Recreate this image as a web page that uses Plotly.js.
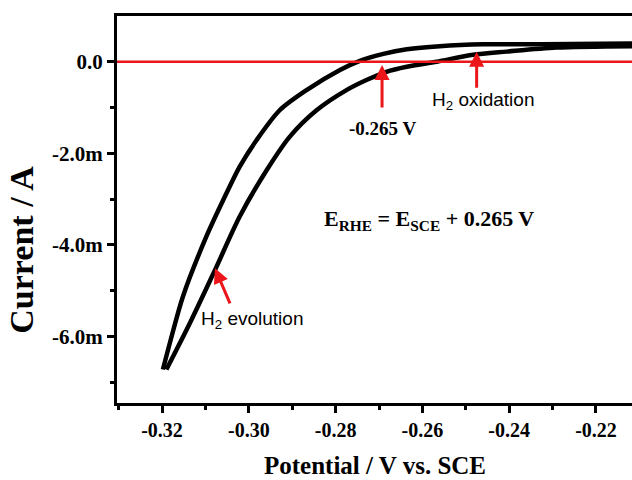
<!DOCTYPE html>
<html>
<head>
<meta charset="utf-8">
<script src="https://cdn.plot.ly/plotly-3.0.1.min.js"></script>
<style>
  html, body { margin: 0; padding: 0; background: #fff; }
  #chart { width: 632px; height: 480px; }
</style>
</head>
<body>
<div id="chart"></div>
<script>
// Cyclic voltammogram: sweep toward negative potential (upper/left branch)
const sweepDownPotential = [-0.2117, -0.2329, -0.2460, -0.2560, -0.2636, -0.2690, -0.2744, -0.2790,
  -0.2867, -0.2929, -0.2982, -0.3021, -0.3059, -0.3098, -0.3152, -0.3178, -0.3198];
const sweepDownCurrent_mA = [0.40, 0.38, 0.38, 0.34, 0.27, 0.17, 0.02, -0.18,
  -0.62, -1.06, -1.71, -2.29, -3.02, -3.82, -5.13, -6.00, -6.72];

// Return sweep toward positive potential (lower/right branch)
const sweepUpPotential = [-0.3190, -0.3136, -0.3078, -0.3021, -0.2959, -0.2906, -0.2844, -0.2775,
  -0.2729, -0.2683, -0.2636, -0.2567, -0.2483, -0.2406, -0.2291, -0.2117];
const sweepUpCurrent_mA = [-6.72, -5.71, -4.55, -3.38, -2.37, -1.64, -1.06, -0.62,
  -0.40, -0.22, -0.11, 0.00, 0.15, 0.22, 0.31, 0.34];

// Axis ticks
const xTickVals = [-0.32, -0.30, -0.28, -0.26, -0.24, -0.22];
const xTickText = ['-0.32', '-0.30', '-0.28', '-0.26', '-0.24', '-0.22'];
const xMinorVals = [-0.33, -0.31, -0.29, -0.27, -0.25, -0.23, -0.21];
const yTickVals = [0, -2e-3, -4e-3, -6e-3];
const yTickText = ['0.0', '-2.0m', '-4.0m', '-6.0m'];
const yMinorVals = [-1e-3, -3e-3, -5e-3, -7e-3];

// Marked potentials (V vs. SCE)
const onsetPotential = -0.2693;
const oxidationPotential = -0.2475;
const evolutionPotential = -0.3078;

const RED = 'rgb(236,22,26)';
const serif = 'Liberation Serif';
const sans = 'Liberation Sans';

const toAmps = arr => arr.map(v => v * 1e-3);
const branchStyle = { color: '#000', width: 4.5, shape: 'spline', smoothing: 0.8 };

// The two sweeps meet at the turning point, each drawn as its own smooth branch
const traces = [
  { x: sweepDownPotential, y: toAmps(sweepDownCurrent_mA), type: 'scatter', mode: 'lines',
    line: branchStyle, hoverinfo: 'skip' },
  { x: sweepUpPotential, y: toAmps(sweepUpCurrent_mA), type: 'scatter', mode: 'lines',
    line: branchStyle, hoverinfo: 'skip' }
];

const axisCommon = {
  showgrid: false,
  zeroline: false,
  showline: true,
  linecolor: '#000',
  linewidth: 3,
  ticks: 'outside',
  ticklen: 7,
  tickwidth: 3,
  tickcolor: '#000',
  tickmode: 'array'
};

const layout = {
  width: 632,
  height: 480,
  margin: { l: 117, r: 0, t: 16, b: 77 },
  paper_bgcolor: '#fff',
  plot_bgcolor: '#fff',
  showlegend: false,
  xaxis: Object.assign({}, axisCommon, {
    range: [-0.33038, -0.2117],
    mirror: true,
    tickvals: xTickVals,
    ticktext: xTickText,
    tickfont: { family: serif, size: 20, color: '#000', weight: 'bold' },
    minor: { tickvals: xMinorVals, ticks: 'outside', ticklen: 4, tickwidth: 3, tickcolor: '#000' }
  }),
  yaxis: Object.assign({}, axisCommon, {
    range: [-7.452e-3, 0.998e-3],
    tickvals: yTickVals,
    ticktext: yTickText,
    tickfont: { family: serif, size: 21, color: '#000', weight: 'bold' },
    minor: { tickvals: yMinorVals, ticks: 'outside', ticklen: 4, tickwidth: 3, tickcolor: '#000' }
  }),
  shapes: [{
    type: 'line', xref: 'paper', yref: 'y', x0: 0, x1: 1, y0: 0, y1: 0,
    line: { color: RED, width: 2.5 }, layer: 'above'
  }],
  annotations: [
    // axis titles
    { text: 'Potential / V vs. SCE', xref: 'paper', yref: 'paper', x: 0.5, y: -0.162,
      xanchor: 'center', yanchor: 'middle', showarrow: false,
      font: { family: serif, size: 25, color: '#000', weight: 'bold' } },
    { text: 'Current / A', xref: 'paper', yref: 'y', x: -0.186, y: -4.1e-3, textangle: -90,
      xanchor: 'center', yanchor: 'middle', showarrow: false,
      font: { family: serif, size: 34, color: '#000', weight: 'bold' } },
    // arrows
    { x: onsetPotential, y: -0.07e-3, ax: onsetPotential, ay: -1.03e-3, xref: 'x', yref: 'y',
      axref: 'x', ayref: 'y', text: '', showarrow: true, arrowhead: 2, arrowsize: 1,
      arrowwidth: 3, arrowcolor: RED, standoff: 0 },
    { x: oxidationPotential, y: 0.22e-3, ax: oxidationPotential, ay: -0.6e-3, xref: 'x', yref: 'y',
      axref: 'x', ayref: 'y', text: '', showarrow: true, arrowhead: 2, arrowsize: 1,
      arrowwidth: 3, arrowcolor: RED, standoff: 0 },
    { x: evolutionPotential, y: -4.51e-3, ax: -0.3042, ay: -5.31e-3, xref: 'x', yref: 'y',
      axref: 'x', ayref: 'y', text: '', showarrow: true, arrowhead: 2, arrowsize: 1,
      arrowwidth: 3, arrowcolor: RED, standoff: 0 },
    // labels
    { text: '-0.265 V', x: -0.2691, y: -1.45e-3, xref: 'x', yref: 'y', showarrow: false,
      xanchor: 'center', yanchor: 'middle',
      font: { family: serif, size: 19, color: '#000', weight: 'bold' } },
    { text: 'H<sub>2</sub> oxidation', x: -0.2583, y: -0.85e-3, xref: 'x', yref: 'y', showarrow: false,
      xanchor: 'left', yanchor: 'middle',
      font: { family: sans, size: 19, color: '#000' } },
    { text: 'H<sub>2</sub> evolution', x: -0.3115, y: -5.65e-3, xref: 'x', yref: 'y', showarrow: false,
      xanchor: 'left', yanchor: 'middle',
      font: { family: sans, size: 19, color: '#000' } },
    { text: 'E<sub>RHE</sub> = E<sub>SCE</sub> + 0.265 V', x: -0.28325, y: -3.45e-3, xref: 'x', yref: 'y',
      showarrow: false, xanchor: 'left', yanchor: 'middle',
      font: { family: serif, size: 22, color: '#000', weight: 'bold' } }
  ]
};

Plotly.newPlot('chart', traces, layout, { displayModeBar: false, staticPlot: true });
</script>
</body>
</html>
